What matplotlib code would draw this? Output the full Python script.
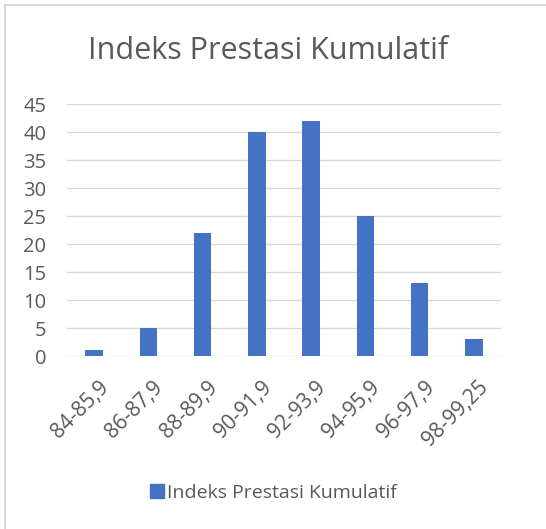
import numpy as np
import matplotlib.pyplot as plt
from matplotlib.lines import Line2D
import matplotlib.transforms as mtransforms

plt.rcParams['font.family'] = ['Open Sans', 'DejaVu Sans']

# data
categories = ['84-85,9', '86-87,9', '88-89,9', '90-91,9', '92-93,9',
              '94-95,9', '96-97,9', '98-99,25']
values = [1, 5, 22, 40, 42, 25, 13, 3]
series_name = 'Indeks Prestasi Kumulatif'

bar_color = '#4472C4'
text_color = '#595959'
grid_color = '#D9D9D9'

fig = plt.figure(figsize=(5.46, 5.29), dpi=100)
ax = fig.add_axes([0.1227, 0.327, 0.795, 0.4764])

x = np.arange(len(categories))
ax.bar(x, values, width=0.32, color=bar_color, zorder=3)

ax.set_xlim(-0.5, len(categories) - 0.5)
ax.set_ylim(0, 45)
ax.set_yticks(np.arange(0, 46, 5))
ax.grid(axis='y', color=grid_color, linewidth=1, zorder=0)
for s in ax.spines.values():
    s.set_visible(False)
ax.tick_params(axis='both', length=0, colors=text_color, labelsize=14.5)
ax.tick_params(axis='y', pad=15)
ax.set_xticks(x)
ax.set_xticklabels(categories, rotation=45, ha='right', rotation_mode='anchor',
                   fontsize=15)
ax.tick_params(axis='x', pad=15)
# nudge rotated labels a little to the right, like excel does
offset = mtransforms.ScaledTranslation(3/72, 0, fig.dpi_scale_trans)
for lab in ax.get_xticklabels():
    lab.set_transform(lab.get_transform() + offset)

fig.text(0.491, 0.903, series_name, ha='center', va='center',
         fontsize=22, color=text_color)

# legend
handle = Line2D([], [], marker='s', linestyle='none', markersize=10,
                color=bar_color)
fig.legend([handle], [series_name], loc='center', bbox_to_anchor=(0.498, 0.068),
           frameon=False, fontsize=14, labelcolor=text_color,
           handletextpad=0.05, handlelength=1)

# chart border
fig.add_artist(plt.Line2D([5/546, 5/546], [0, 1 - 5/529], color=grid_color,
                          linewidth=1.5, transform=fig.transFigure))
fig.add_artist(plt.Line2D([5/546, 1], [1 - 5/529, 1 - 5/529], color=grid_color,
                          linewidth=1.5, transform=fig.transFigure))

fig.savefig('out.png', dpi=100)
